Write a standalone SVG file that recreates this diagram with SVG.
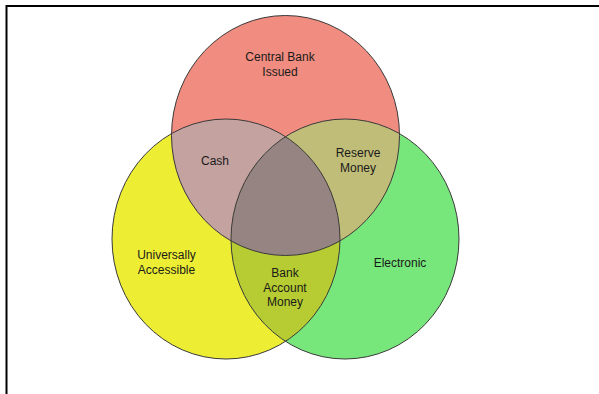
<svg xmlns="http://www.w3.org/2000/svg" xmlns:xlink="http://www.w3.org/1999/xlink" width="599" height="394" viewBox="0 0 599 394">
<style>
.lbl{font-family:"Liberation Sans",Arial,sans-serif;font-size:12px;fill:#1a1a1a;text-anchor:middle}
.ring{fill:none;stroke:#3a3a3a;stroke-width:1}
.frame{stroke:#000;stroke-width:2;fill:none}
</style>
<defs>
<ellipse id="eR" cx="285.5" cy="135.5" rx="114" ry="120"/>
<ellipse id="eY" cx="226" cy="239" rx="114" ry="120"/>
<ellipse id="eG" cx="345" cy="239" rx="114" ry="120"/>
<clipPath id="cR"><use xlink:href="#eR"/></clipPath>
<clipPath id="cY"><use xlink:href="#eY"/></clipPath>
<clipPath id="cG"><use xlink:href="#eG"/></clipPath>
</defs>
<rect width="599" height="394" fill="#fff"/>
<g id="frame">
<path class="frame" d="M6.5 394 V6 H599"/>
</g>
<g id="set-universal">
<use xlink:href="#eY" fill="#EDED34"/>
</g>
<g id="set-electronic">
<use xlink:href="#eG" fill="#77E77B"/>
</g>
<g id="set-central-bank">
<use xlink:href="#eR" fill="#F08C80"/>
</g>
<g id="overlaps">
<use xlink:href="#eY" fill="#C4A2A0" clip-path="url(#cR)"/>
<use xlink:href="#eG" fill="#C0BD78" clip-path="url(#cR)"/>
<use xlink:href="#eG" fill="#B6CC32" clip-path="url(#cY)"/>
<g clip-path="url(#cG)"><use xlink:href="#eR" fill="#968483" clip-path="url(#cY)"/></g>
</g>
<g id="outlines">
<use xlink:href="#eY" class="ring"/>
<use xlink:href="#eG" class="ring"/>
<use xlink:href="#eR" class="ring"/>
</g>
<g id="label-central-bank">
<text class="lbl" x="280" y="60.5">Central Bank</text>
<text class="lbl" x="280" y="75.5">Issued</text>
</g>
<g id="label-cash">
<text class="lbl" x="215" y="164.5">Cash</text>
</g>
<g id="label-reserve">
<text class="lbl" x="358" y="157">Reserve</text>
<text class="lbl" x="358" y="171.5">Money</text>
</g>
<g id="label-universal">
<text class="lbl" x="166.5" y="258.5">Universally</text>
<text class="lbl" x="166.5" y="273.5">Accessible</text>
</g>
<g id="label-bank-account">
<text class="lbl" x="285" y="277">Bank</text>
<text class="lbl" x="285" y="291.5">Account</text>
<text class="lbl" x="285" y="306">Money</text>
</g>
<g id="label-electronic">
<text class="lbl" x="400" y="267">Electronic</text>
</g>
</svg>
